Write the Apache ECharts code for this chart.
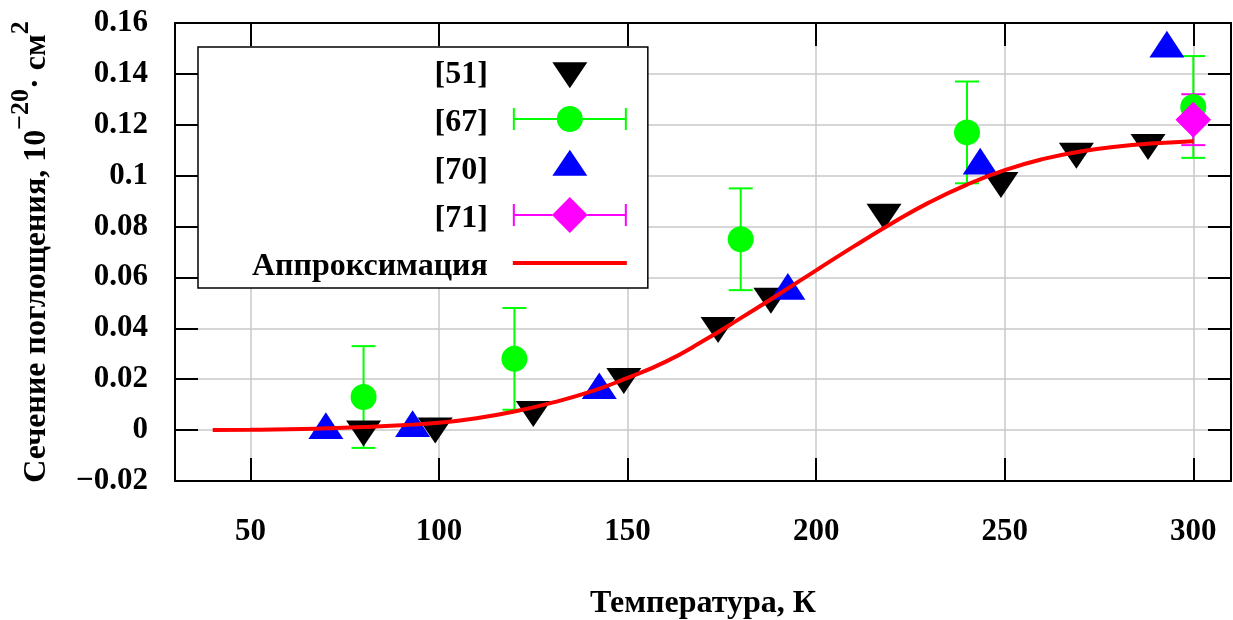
<!DOCTYPE html>
<html><head><meta charset="utf-8">
<script src="https://cdn.jsdelivr.net/npm/echarts@6/dist/echarts.min.js"></script>
<style>html,body{margin:0;padding:0;background:#fff}#c{width:1233px;height:620px}</style>
</head><body><div id="c"></div>
<script>
const FONT = 'Liberation Serif';
const xTicks = [50, 100, 150, 200, 250, 300];

// [51]
const t51 = [80, 99, 125, 149, 174, 188, 218, 249, 269, 288];
const v51 = [0.0004, 0.0015, 0.008, 0.021, 0.041, 0.0525, 0.0855, 0.098, 0.1095, 0.113];
// [67]
const t67 = [80, 120, 180, 240, 300];
const v67 = [0.013, 0.028, 0.075, 0.117, 0.127];
const e67 = [0.02, 0.02, 0.02, 0.02, 0.02];
// [70]
const t70 = [70, 93, 142.5, 192.5, 243.5, 293];
const v70 = [0.0, 0.0008, 0.0157, 0.0548, 0.104, 0.15];
// [71]
const t71 = [300];
const v71 = [0.122];
const e71 = [0.01];
// Аппроксимация
const tFit = [40, 50, 60, 70, 80, 90, 100, 110, 120, 130, 140, 150, 160, 170, 180, 190, 200, 210, 220, 230, 240, 250, 260, 270, 280, 290, 300];
const vFit = [0.0000, 0.0001, 0.0003, 0.0007, 0.0012, 0.0019, 0.0029, 0.0047, 0.0073, 0.0108, 0.0150, 0.0205, 0.0268, 0.0350, 0.0440, 0.0533, 0.0628, 0.0722, 0.0812, 0.0895, 0.0965, 0.1022, 0.1065, 0.1095, 0.1115, 0.1127, 0.1135];

const zip = (a, b) => a.map((x, i) => [x, b[i]]);
const errData = (t, v, e) => t.map((x, i) => [x, v[i] - e[i], v[i] + e[i]]);

function errRender(color) {
  return function (params, api) {
    const x = api.value(0);
    const pLo = api.coord([x, api.value(1)]);
    const pHi = api.coord([x, api.value(2)]);
    const hw = 12;
    const st = { stroke: color, lineWidth: 2 };
    return { type: 'group', children: [
      { type: 'line', shape: { x1: pLo[0], y1: pLo[1], x2: pHi[0], y2: pHi[1] }, style: st },
      { type: 'line', shape: { x1: pLo[0] - hw, y1: pLo[1], x2: pLo[0] + hw, y2: pLo[1] }, style: st },
      { type: 'line', shape: { x1: pHi[0] - hw, y1: pHi[1], x2: pHi[0] + hw, y2: pHi[1] }, style: st }
    ]};
  };
}

const CORN = 'M0,0L0,0ZM134,40L134,40Z';
const P51 = 'path://' + CORN + 'M59.5,11.33L94.5,11.33L77,37.33Z';
const P67 = 'path://' + CORN + 'M20,9L22,9L22,31L20,31ZM132,9L134,9L134,31L132,31ZM22,19L64.5,19L64.5,21L22,21ZM89.5,19L132,19L132,21L89.5,21ZM64,20A13,13,0,1,1,90,20A13,13,0,1,1,64,20Z';
const P70 = 'path://' + CORN + 'M77,2.67L94.5,28.67L59.5,28.67Z';
const P71 = 'path://' + CORN + 'M20,9L22,9L22,31L20,31ZM132,9L134,9L134,31L132,31ZM22,19L59.5,19L59.5,21L22,21ZM94.5,19L132,19L132,21L94.5,21ZM77,2L94.8,20L77,38L59.2,20Z';
const PFIT = 'path://' + CORN + 'M20,18L134,18L134,22L20,22Z';

const txt = { fontFamily: FONT, fontWeight: 'bold', color: '#000' };
const axisLine = { show: true, onZero: false, lineStyle: { color: '#000', width: 2 } };
const tick = { show: true, inside: true, length: 23, lineStyle: { color: '#000', width: 2 } };
const grid = { show: true, lineStyle: { color: '#c8c8c8', width: 1.5 } };
const fmt = v => String(+v.toFixed(2)).replace('-', '\u2212');

const chart = echarts.init(document.getElementById('c'), null, { renderer: 'canvas' });
chart.setOption({
  animation: false,
  backgroundColor: '#fff',
  grid: { left: 175, right: 2, top: 23, bottom: 139, containLabel: false, outerBoundsMode: 'none' },
  legend: {
    orient: 'vertical', align: 'right', left: 198, top: 47,
    padding: [4, 21, 5, 54], itemWidth: 134, itemHeight: 40, itemGap: 8,
    backgroundColor: '#fff', borderColor: '#000', borderWidth: 1.5, borderRadius: 0,
    selectedMode: false,
    itemStyle: { borderWidth: 0 },
    formatter: '{t|{name}}',
    textStyle: Object.assign({ fontSize: 32,
      rich: { t: Object.assign({ fontSize: 32, lineHeight: 40, verticalAlign: 'bottom' }, txt) } }, txt),
    data: [
      { name: '[51]', icon: P51 },
      { name: '[67]', icon: P67 },
      { name: '[70]', icon: P70 },
      { name: '[71]', icon: P71 },
      { name: 'Аппроксимация', icon: PFIT }
    ]
  },
  xAxis: [
    { type: 'value', min: 30, max: 310, position: 'bottom',
      axisLine: axisLine,
      axisTick: Object.assign({ customValues: xTicks }, tick),
      axisLabel: Object.assign({ customValues: xTicks, margin: 35, fontSize: 31 }, txt),
      splitLine: grid,
      name: 'Температура, К', nameLocation: 'middle', nameGap: 107,
      nameTextStyle: Object.assign({ fontSize: 32 }, txt) },
    { type: 'value', min: 30, max: 310, position: 'top',
      axisLine: axisLine,
      axisTick: Object.assign({ customValues: xTicks }, tick),
      axisLabel: { show: false, customValues: xTicks },
      splitLine: { show: false } }
  ],
  yAxis: [
    { type: 'value', min: -0.02, max: 0.16, interval: 0.02, position: 'left',
      axisLine: axisLine, axisTick: tick,
      axisLabel: Object.assign({ margin: 27, fontSize: 31, formatter: fmt }, txt),
      splitLine: grid,
      name: '{m|Сечение поглощения, 10}{s|\u221220}{m|· см}{s|2}',
      nameLocation: 'middle', nameRotate: 90, nameGap: 122,
      nameTextStyle: Object.assign({ fontSize: 32,
        rich: {
          m: Object.assign({ fontSize: 32, verticalAlign: 'bottom' }, txt),
          s: Object.assign({ fontSize: 26, lineHeight: 45, verticalAlign: 'top' }, txt)
        } }, txt) },
    { type: 'value', min: -0.02, max: 0.16, interval: 0.02, position: 'right',
      axisLine: axisLine, axisTick: tick,
      axisLabel: { show: false }, splitLine: { show: false } }
  ],
  series: [
    { name: '[51]', type: 'scatter', data: zip(t51, v51),
      symbol: 'path://M0,0L2,0L1,2Z', symbolSize: [35, 26], symbolOffset: [0, 4.3],
      itemStyle: { color: '#000000', opacity: 1 }, silent: true },
    { name: 'err67', type: 'custom', data: errData(t67, v67, e67), encode: { x: 0, y: [1, 2] },
      renderItem: errRender('#00ff00'), silent: true },
    { name: '[67]', type: 'scatter', data: zip(t67, v67),
      symbol: 'circle', symbolSize: 26,
      itemStyle: { color: '#00ff00', opacity: 1 }, silent: true },
    { name: '[70]', type: 'scatter', data: zip(t70, v70),
      symbol: 'triangle', symbolSize: [35, 26.7], symbolOffset: [0, -4.4],
      itemStyle: { color: '#0000ff', opacity: 1 }, silent: true },
    { name: 'err71', type: 'custom', data: errData(t71, v71, e71), encode: { x: 0, y: [1, 2] },
      renderItem: errRender('#ff00ff'), silent: true },
    { name: '[71]', type: 'scatter', data: zip(t71, v71),
      symbol: 'diamond', symbolSize: [35.6, 36],
      itemStyle: { color: '#ff00ff', opacity: 1 }, silent: true },
    { name: 'Аппроксимация', type: 'line', data: zip(tFit, vFit),
      smooth: 0.5, showSymbol: false, symbol: 'none',
      lineStyle: { color: '#ff0000', width: 4 }, itemStyle: { color: '#ff0000' }, silent: true }
  ]
});
</script>
</body></html>
